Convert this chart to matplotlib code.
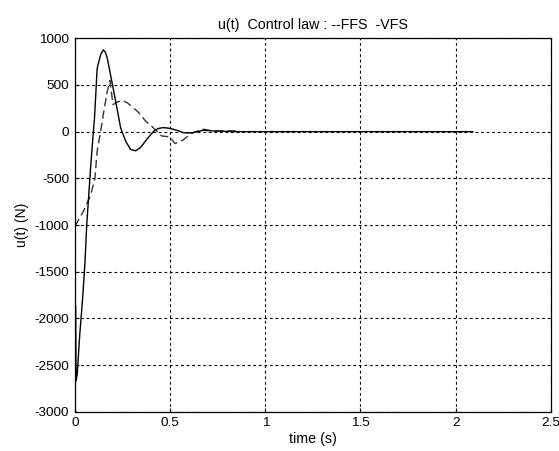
import matplotlib
matplotlib.use("Agg")
import matplotlib.pyplot as plt

# VFS (solid)
t_vfs = [0.0, 0.004, 0.006, 0.012, 0.026, 0.04, 0.053, 0.062, 0.072, 0.082, 0.09, 0.103, 0.117,
         0.135, 0.149, 0.16, 0.17, 0.187, 0.214, 0.24, 0.266, 0.292, 0.319, 0.345,
         0.371, 0.393, 0.415, 0.44, 0.464, 0.49, 0.516, 0.545, 0.569, 0.595, 0.621,
         0.648, 0.674, 0.72, 0.78, 0.85, 2.09]
u_vfs = [-1870, -1870, -2670, -2600, -2160, -1800, -1400, -1000, -700, -400, -180, 150, 680,
         823, 877, 850, 787, 610, 327, 43, -100, -190, -205, -170,
         -100, -45, 7, 35, 43, 38, 26, 8, -11, -14, -11,
         2, 15, 8, 4, 0, 0]

# FFS (dashed)
t_ffs = [0.0, 0.047, 0.082, 0.105, 0.117, 0.135, 0.152, 0.17, 0.184, 0.2, 0.22, 0.249,
         0.275, 0.305, 0.336, 0.371, 0.411, 0.455, 0.499, 0.525, 0.569, 0.613, 0.674,
         0.726, 0.78, 0.849]
u_ffs = [-1014, -844, -684, -503, -205, 0, 220, 433, 547, 290, 315, 334,
         309, 260, 202, 114, 43, -46, -56, -128, -88, -17, 26,
         7, 8, 8]

title = "u(t)  Control law : --FFS  -VFS"
xlabel = "time (s)"
ylabel = "u(t) (N)"
xticks = [0, 0.5, 1, 1.5, 2, 2.5]
xticklabels = ["0", "0.5", "1", "1.5", "2", "2.5"]
yticks = [-3000, -2500, -2000, -1500, -1000, -500, 0, 500, 1000]

plt.rcParams['font.family'] = ['Liberation Sans', 'DejaVu Sans']
plt.rcParams['axes.unicode_minus'] = False

fig = plt.figure(figsize=(5.59, 4.51), dpi=100)
ax = fig.add_axes([0.134, 0.0871, 0.8515, 0.828])

ax.plot(t_ffs, u_ffs, color='#333333', lw=1.0, linestyle=(0, (6, 3)))
ax.plot(t_vfs, u_vfs, color='black', lw=1.0)

ax.set_xlim(0, 2.5)
ax.set_ylim(-3000, 1000)
ax.set_xticks(xticks)
ax.set_xticklabels(xticklabels)
ax.set_yticks(yticks)
ax.grid(True, color='black', linestyle=(0, (2.5, 2.5)), linewidth=0.8)
ax.tick_params(direction='in', length=3, labelsize=9.7, pad=4)
for s in ax.spines.values():
    s.set_linewidth(0.9)

ax.set_title(title, fontsize=10.3, pad=7)
ax.set_xlabel(xlabel, fontsize=10.3, labelpad=2)
ax.set_ylabel(ylabel, fontsize=10, labelpad=4)

fig.savefig("out.png", dpi=100)
